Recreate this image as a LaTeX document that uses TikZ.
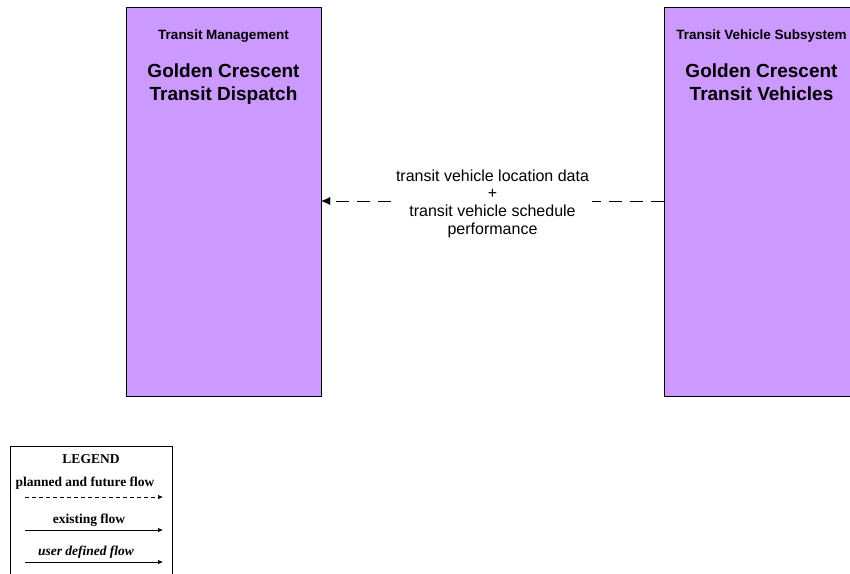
\documentclass[tikz,border=0pt]{standalone}
\usepackage{fontspec}
\setmainfont{Liberation Serif}
\newfontfamily\arialfont{Liberation Sans}
\usetikzlibrary{arrows.meta}

\definecolor{boxpurple}{RGB}{204,153,255}

\tikzset{
  subsys/.style={draw=black,fill=boxpurple,minimum width=195pt,minimum height=389pt,inner sep=0pt},
  classlabel/.style={font=\arialfont\bfseries\fontsize{13.5}{16}\selectfont,align=center},
  namelabel/.style={font=\arialfont\bfseries\fontsize{19}{23}\selectfont,align=center,anchor=north},
  flowlabel/.style={font=\arialfont\fontsize{16}{17.7}\selectfont,align=center,fill=white,inner sep=3pt},
  flowline/.style={dash pattern=on 13pt off 8pt,-{Latex[length=9pt,width=8pt]}},
  legendtext/.style={font=\bfseries\fontsize{13.5}{15}\selectfont},
  legendarrow/.style={-{Latex[length=5pt,width=4.5pt]},line width=0.7pt}
}

\begin{document}
\begin{tikzpicture}[x=1pt,y=-1pt,line cap=butt,line join=miter]
  \useasboundingbox (0,0) rectangle (850,573);
  \clip (0,0) rectangle (850,573);

  % subsystems
  \node[subsys] (dispatch) at (223.5,201.5) {};
  \node[subsys] (vehicles) at (761.5,201.5) {};

  \node[classlabel] (dispatchclass) at (223.5,36) {Transit Management};
  \node[namelabel] (dispatchname) at (223.5,60) {Golden Crescent\\Transit Dispatch};
  \node[classlabel] (vehiclesclass) at (761.5,36) {Transit Vehicle Subsystem};
  \node[namelabel] (vehiclesname) at (761.5,60) {Golden Crescent\\Transit Vehicles};

  % flow
  \draw[flowline] (vehicles.west |- 0,201) -- (dispatch.east |- 0,201)
    node[midway,flowlabel,yshift=-2.5pt] (flow) {transit vehicle location data\\+\\transit vehicle schedule\\performance};

  % legend
  \node[draw=black,line width=0.8pt,minimum width=162pt,minimum height=140pt,anchor=north west,inner sep=0pt] (legend) at (10,446) {};
  \node[legendtext] (legendtitle) at (91,459) {LEGEND};
  \node[legendtext] (plannedtext) at (85,483) {planned and future flow};
  \coordinate (planneda) at (25,497);
  \coordinate (plannedb) at (163,497);
  \draw[legendarrow,dash pattern=on 4pt off 3pt] (planneda) -- (plannedb);
  \node[legendtext] (existingtext) at (89,520) {existing flow};
  \coordinate (existinga) at (25,530);
  \coordinate (existingb) at (163,530);
  \draw[legendarrow] (existinga) -- (existingb);
  \node[legendtext,font=\bfseries\itshape\fontsize{13.5}{15}\selectfont] (usertext) at (86,552) {user defined flow};
  \coordinate (usera) at (25,562);
  \coordinate (userb) at (163,562);
  \draw[legendarrow] (usera) -- (userb);
\end{tikzpicture}
\end{document}
